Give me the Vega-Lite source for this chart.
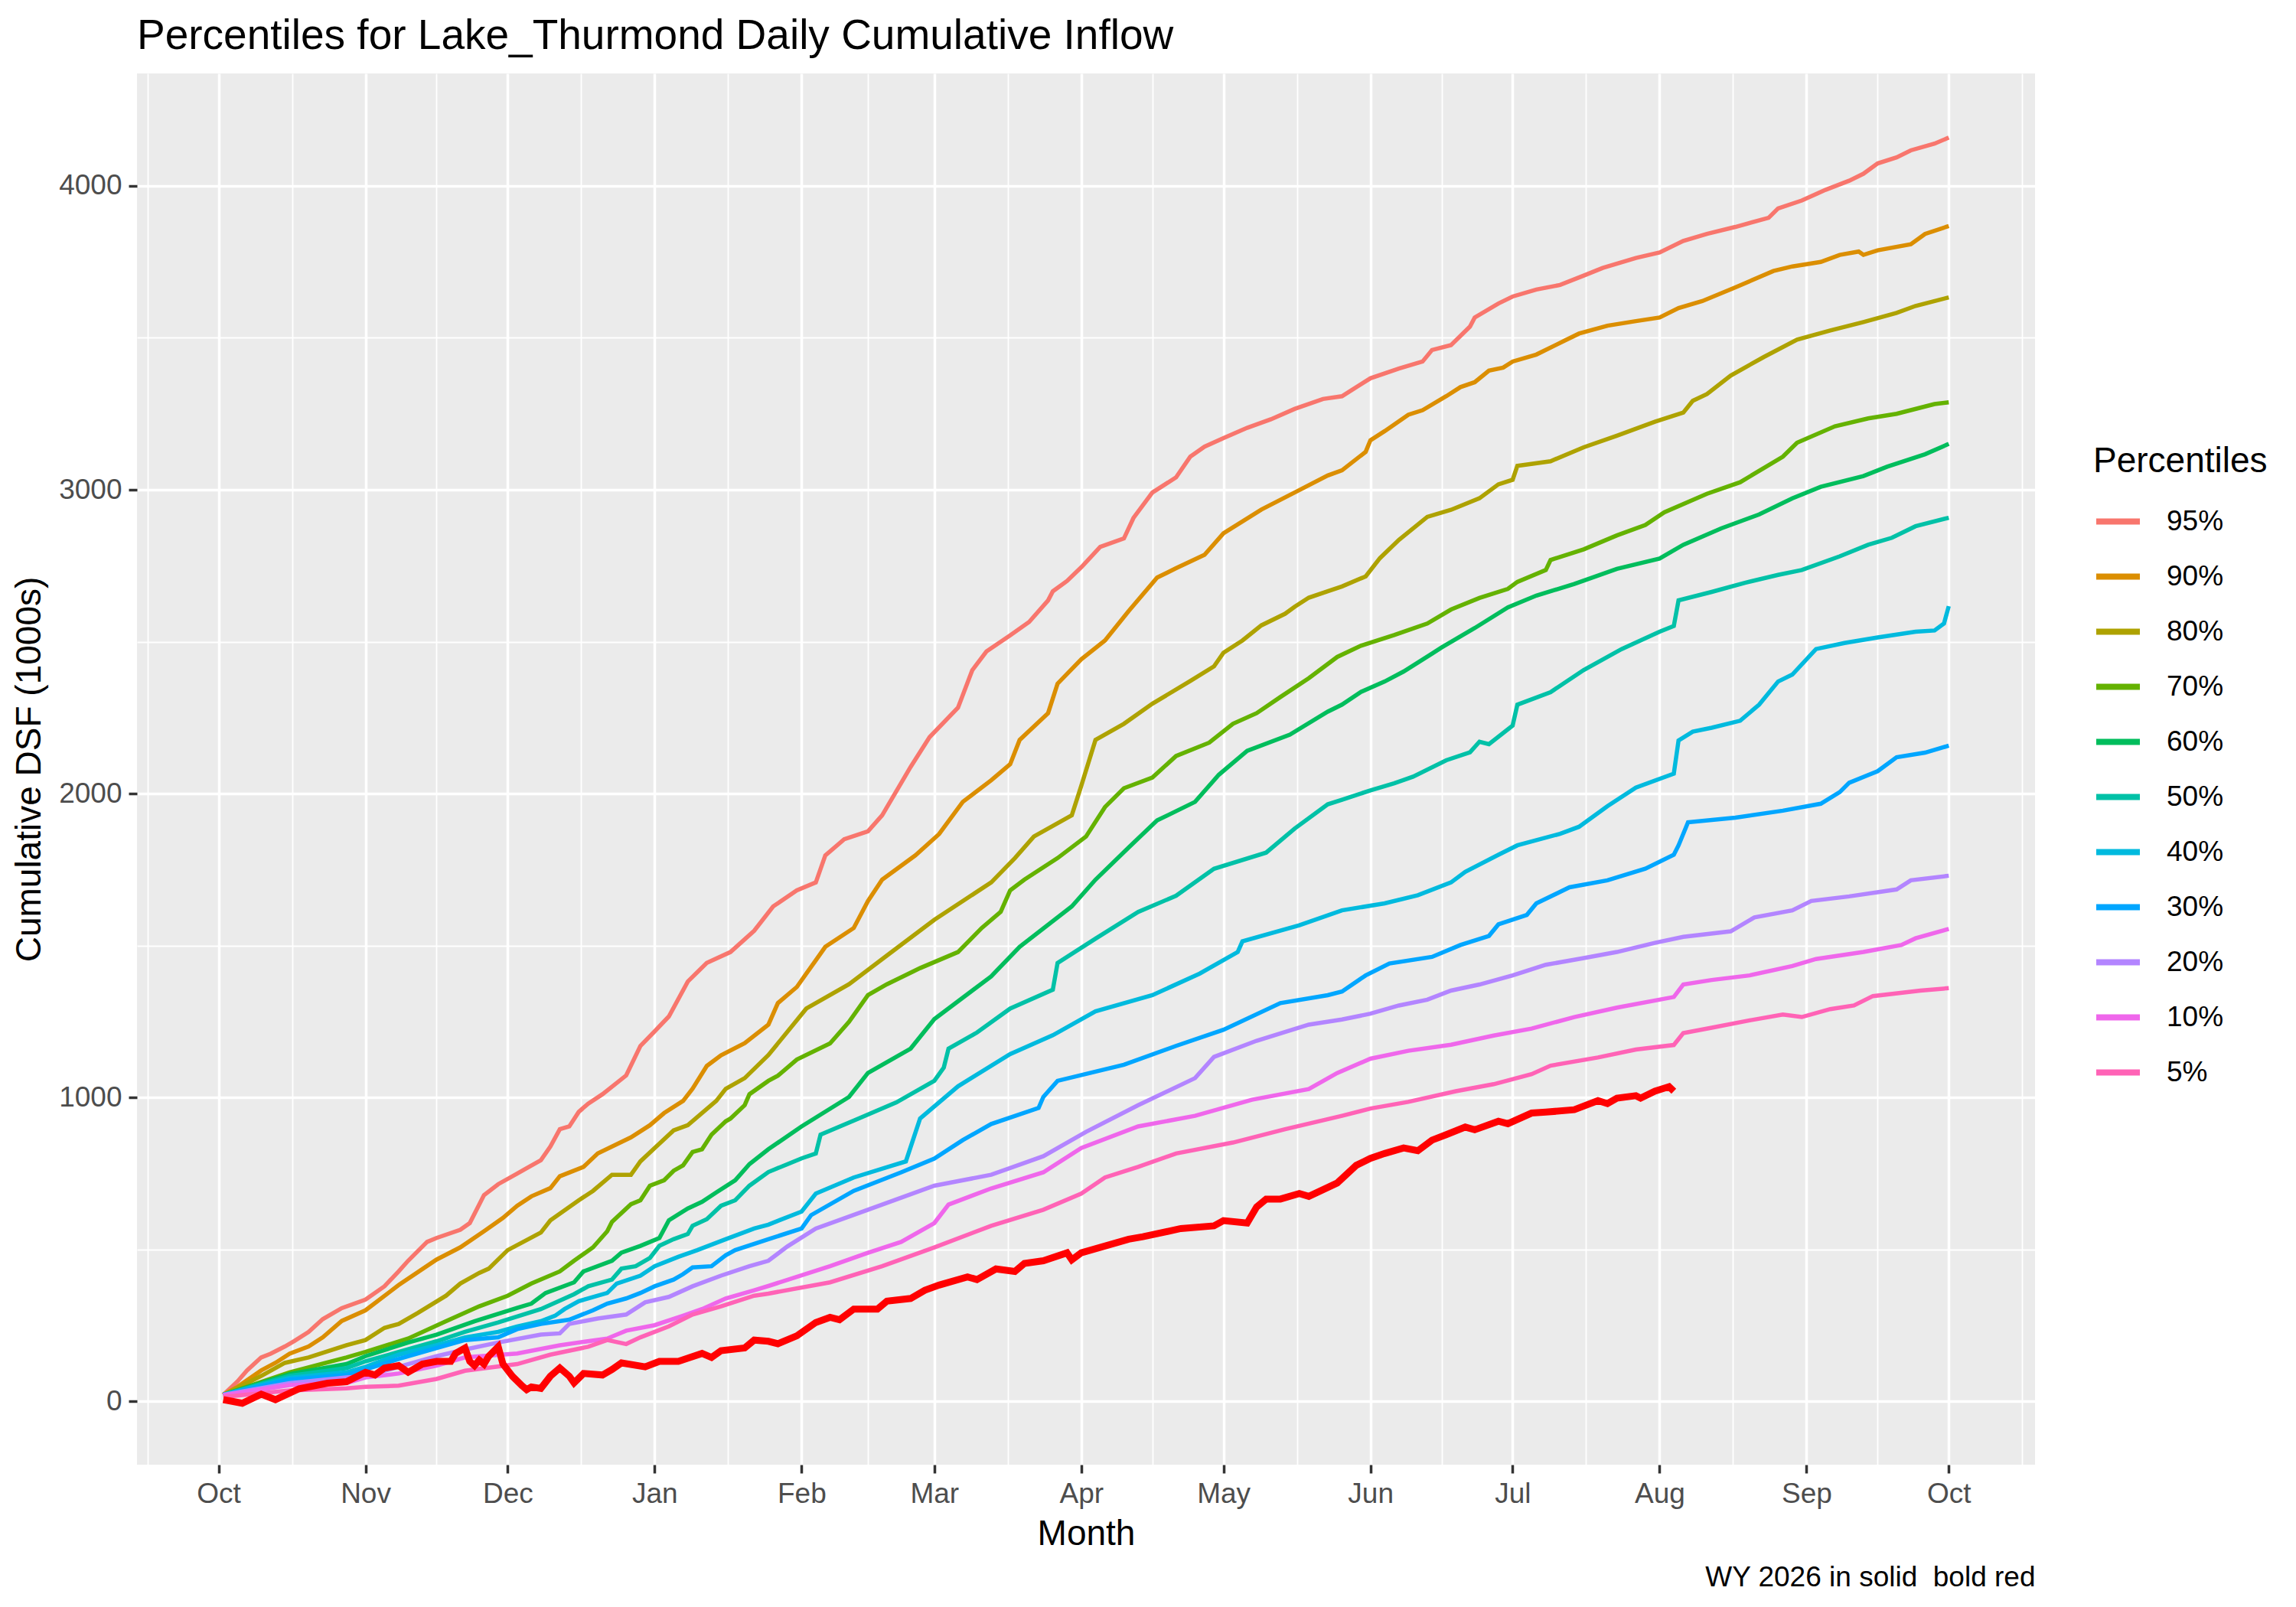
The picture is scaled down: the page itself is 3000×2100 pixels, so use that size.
{
  "$schema": "https://vega.github.io/schema/vega-lite/v6.json",
  "width": 2480,
  "height": 1818,
  "autosize": {"type": "none"},
  "padding": {"left": 179, "top": 96, "right": 341, "bottom": 186},
  "background": "white",
  "title": {
    "text": "Percentiles for Lake_Thurmond Daily Cumulative Inflow",
    "anchor": "start",
    "frame": "group",
    "font": "Liberation Sans",
    "fontSize": 55,
    "fontWeight": "normal",
    "color": "black",
    "offset": 20
  },
  "config": {
    "view": {"fill": "#EBEBEB", "stroke": null},
    "font": "Liberation Sans"
  },
  "datasets": {
    "pct": [
      {"p":"95%","d":"2025-10-02","v":22},{"p":"95%","d":"2025-10-05","v":66},{"p":"95%","d":"2025-10-07","v":102},{"p":"95%","d":"2025-10-10","v":145},{"p":"95%","d":"2025-10-12","v":157},{"p":"95%","d":"2025-10-15","v":181},{"p":"95%","d":"2025-10-17","v":199},{"p":"95%","d":"2025-10-20","v":229},{"p":"95%","d":"2025-10-23","v":271},{"p":"95%","d":"2025-10-27","v":307},{"p":"95%","d":"2025-11-01","v":335},{"p":"95%","d":"2025-11-05","v":379},{"p":"95%","d":"2025-11-08","v":428},{"p":"95%","d":"2025-11-10","v":463},{"p":"95%","d":"2025-11-14","v":525},{"p":"95%","d":"2025-11-16","v":538},{"p":"95%","d":"2025-11-21","v":565},{"p":"95%","d":"2025-11-23","v":587},{"p":"95%","d":"2025-11-26","v":679},{"p":"95%","d":"2025-11-29","v":715},{"p":"95%","d":"2025-12-03","v":750},{"p":"95%","d":"2025-12-08","v":794},{"p":"95%","d":"2025-12-10","v":839},{"p":"95%","d":"2025-12-12","v":896},{"p":"95%","d":"2025-12-14","v":905},{"p":"95%","d":"2025-12-16","v":953},{"p":"95%","d":"2025-12-18","v":980},{"p":"95%","d":"2025-12-21","v":1011},{"p":"95%","d":"2025-12-26","v":1073},{"p":"95%","d":"2025-12-29","v":1170},{"p":"95%","d":"2026-01-01","v":1218},{"p":"95%","d":"2026-01-04","v":1267},{"p":"95%","d":"2026-01-08","v":1382},{"p":"95%","d":"2026-01-12","v":1443},{"p":"95%","d":"2026-01-17","v":1479},{"p":"95%","d":"2026-01-22","v":1549},{"p":"95%","d":"2026-01-26","v":1629},{"p":"95%","d":"2026-01-31","v":1682},{"p":"95%","d":"2026-02-04","v":1708},{"p":"95%","d":"2026-02-06","v":1797},{"p":"95%","d":"2026-02-10","v":1850},{"p":"95%","d":"2026-02-15","v":1876},{"p":"95%","d":"2026-02-18","v":1929},{"p":"95%","d":"2026-02-24","v":2088},{"p":"95%","d":"2026-02-28","v":2186},{"p":"95%","d":"2026-03-06","v":2283},{"p":"95%","d":"2026-03-09","v":2406},{"p":"95%","d":"2026-03-12","v":2468},{"p":"95%","d":"2026-03-17","v":2521},{"p":"95%","d":"2026-03-21","v":2565},{"p":"95%","d":"2026-03-25","v":2636},{"p":"95%","d":"2026-03-26","v":2666},{"p":"95%","d":"2026-03-29","v":2700},{"p":"95%","d":"2026-04-01","v":2745},{"p":"95%","d":"2026-04-05","v":2812},{"p":"95%","d":"2026-04-10","v":2840},{"p":"95%","d":"2026-04-12","v":2907},{"p":"95%","d":"2026-04-16","v":2991},{"p":"95%","d":"2026-04-21","v":3041},{"p":"95%","d":"2026-04-24","v":3109},{"p":"95%","d":"2026-04-27","v":3142},{"p":"95%","d":"2026-05-01","v":3170},{"p":"95%","d":"2026-05-06","v":3204},{"p":"95%","d":"2026-05-11","v":3232},{"p":"95%","d":"2026-05-16","v":3266},{"p":"95%","d":"2026-05-22","v":3299},{"p":"95%","d":"2026-05-26","v":3308},{"p":"95%","d":"2026-06-01","v":3367},{"p":"95%","d":"2026-06-07","v":3399},{"p":"95%","d":"2026-06-12","v":3422},{"p":"95%","d":"2026-06-14","v":3460},{"p":"95%","d":"2026-06-18","v":3476},{"p":"95%","d":"2026-06-22","v":3537},{"p":"95%","d":"2026-06-23","v":3567},{"p":"95%","d":"2026-06-28","v":3613},{"p":"95%","d":"2026-07-01","v":3636},{"p":"95%","d":"2026-07-06","v":3659},{"p":"95%","d":"2026-07-11","v":3674},{"p":"95%","d":"2026-07-16","v":3705},{"p":"95%","d":"2026-07-20","v":3730},{"p":"95%","d":"2026-07-27","v":3763},{"p":"95%","d":"2026-08-01","v":3781},{"p":"95%","d":"2026-08-06","v":3819},{"p":"95%","d":"2026-08-11","v":3842},{"p":"95%","d":"2026-08-17","v":3865},{"p":"95%","d":"2026-08-24","v":3895},{"p":"95%","d":"2026-08-26","v":3926},{"p":"95%","d":"2026-08-31","v":3952},{"p":"95%","d":"2026-09-05","v":3987},{"p":"95%","d":"2026-09-10","v":4017},{"p":"95%","d":"2026-09-13","v":4040},{"p":"95%","d":"2026-09-16","v":4074},{"p":"95%","d":"2026-09-20","v":4094},{"p":"95%","d":"2026-09-23","v":4117},{"p":"95%","d":"2026-09-28","v":4139},{"p":"95%","d":"2026-10-01","v":4159},

      {"p":"90%","d":"2025-10-02","v":22},{"p":"90%","d":"2025-10-05","v":48},{"p":"90%","d":"2025-10-10","v":102},{"p":"90%","d":"2025-10-13","v":127},{"p":"90%","d":"2025-10-16","v":157},{"p":"90%","d":"2025-10-20","v":181},{"p":"90%","d":"2025-10-23","v":211},{"p":"90%","d":"2025-10-27","v":265},{"p":"90%","d":"2025-11-01","v":300},{"p":"90%","d":"2025-11-08","v":383},{"p":"90%","d":"2025-11-16","v":467},{"p":"90%","d":"2025-11-21","v":507},{"p":"90%","d":"2025-11-26","v":560},{"p":"90%","d":"2025-11-30","v":604},{"p":"90%","d":"2025-12-03","v":644},{"p":"90%","d":"2025-12-06","v":675},{"p":"90%","d":"2025-12-10","v":702},{"p":"90%","d":"2025-12-12","v":741},{"p":"90%","d":"2025-12-17","v":772},{"p":"90%","d":"2025-12-20","v":816},{"p":"90%","d":"2025-12-27","v":869},{"p":"90%","d":"2025-12-31","v":909},{"p":"90%","d":"2026-01-03","v":949},{"p":"90%","d":"2026-01-07","v":989},{"p":"90%","d":"2026-01-09","v":1029},{"p":"90%","d":"2026-01-12","v":1104},{"p":"90%","d":"2026-01-15","v":1139},{"p":"90%","d":"2026-01-20","v":1179},{"p":"90%","d":"2026-01-25","v":1240},{"p":"90%","d":"2026-01-27","v":1311},{"p":"90%","d":"2026-01-31","v":1364},{"p":"90%","d":"2026-02-04","v":1452},{"p":"90%","d":"2026-02-06","v":1496},{"p":"90%","d":"2026-02-12","v":1558},{"p":"90%","d":"2026-02-15","v":1647},{"p":"90%","d":"2026-02-18","v":1717},{"p":"90%","d":"2026-02-25","v":1797},{"p":"90%","d":"2026-03-02","v":1867},{"p":"90%","d":"2026-03-07","v":1973},{"p":"90%","d":"2026-03-13","v":2044},{"p":"90%","d":"2026-03-17","v":2097},{"p":"90%","d":"2026-03-19","v":2177},{"p":"90%","d":"2026-03-25","v":2265},{"p":"90%","d":"2026-03-27","v":2362},{"p":"90%","d":"2026-04-01","v":2442},{"p":"90%","d":"2026-04-06","v":2504},{"p":"90%","d":"2026-04-11","v":2601},{"p":"90%","d":"2026-04-17","v":2711},{"p":"90%","d":"2026-04-21","v":2742},{"p":"90%","d":"2026-04-27","v":2786},{"p":"90%","d":"2026-05-01","v":2857},{"p":"90%","d":"2026-05-09","v":2935},{"p":"90%","d":"2026-05-16","v":2991},{"p":"90%","d":"2026-05-23","v":3047},{"p":"90%","d":"2026-05-26","v":3064},{"p":"90%","d":"2026-05-31","v":3125},{"p":"90%","d":"2026-06-01","v":3163},{"p":"90%","d":"2026-06-04","v":3193},{"p":"90%","d":"2026-06-09","v":3247},{"p":"90%","d":"2026-06-12","v":3262},{"p":"90%","d":"2026-06-17","v":3308},{"p":"90%","d":"2026-06-20","v":3338},{"p":"90%","d":"2026-06-23","v":3354},{"p":"90%","d":"2026-06-26","v":3392},{"p":"90%","d":"2026-06-29","v":3402},{"p":"90%","d":"2026-07-01","v":3422},{"p":"90%","d":"2026-07-06","v":3445},{"p":"90%","d":"2026-07-12","v":3491},{"p":"90%","d":"2026-07-15","v":3514},{"p":"90%","d":"2026-07-21","v":3540},{"p":"90%","d":"2026-07-27","v":3555},{"p":"90%","d":"2026-08-01","v":3567},{"p":"90%","d":"2026-08-05","v":3598},{"p":"90%","d":"2026-08-10","v":3621},{"p":"90%","d":"2026-08-17","v":3666},{"p":"90%","d":"2026-08-25","v":3720},{"p":"90%","d":"2026-08-29","v":3735},{"p":"90%","d":"2026-09-04","v":3750},{"p":"90%","d":"2026-09-08","v":3773},{"p":"90%","d":"2026-09-12","v":3784},{"p":"90%","d":"2026-09-13","v":3773},{"p":"90%","d":"2026-09-16","v":3788},{"p":"90%","d":"2026-09-23","v":3808},{"p":"90%","d":"2026-09-26","v":3842},{"p":"90%","d":"2026-10-01","v":3868},

      {"p":"80%","d":"2025-10-02","v":22},{"p":"80%","d":"2025-10-10","v":84},{"p":"80%","d":"2025-10-15","v":127},{"p":"80%","d":"2025-10-20","v":145},{"p":"80%","d":"2025-10-26","v":175},{"p":"80%","d":"2025-10-28","v":185},{"p":"80%","d":"2025-11-01","v":202},{"p":"80%","d":"2025-11-05","v":242},{"p":"80%","d":"2025-11-08","v":255},{"p":"80%","d":"2025-11-12","v":291},{"p":"80%","d":"2025-11-18","v":348},{"p":"80%","d":"2025-11-21","v":388},{"p":"80%","d":"2025-11-25","v":423},{"p":"80%","d":"2025-11-27","v":437},{"p":"80%","d":"2025-12-01","v":498},{"p":"80%","d":"2025-12-08","v":556},{"p":"80%","d":"2025-12-10","v":596},{"p":"80%","d":"2025-12-16","v":662},{"p":"80%","d":"2025-12-19","v":693},{"p":"80%","d":"2025-12-23","v":746},{"p":"80%","d":"2025-12-27","v":746},{"p":"80%","d":"2025-12-29","v":790},{"p":"80%","d":"2026-01-01","v":834},{"p":"80%","d":"2026-01-05","v":892},{"p":"80%","d":"2026-01-08","v":909},{"p":"80%","d":"2026-01-14","v":989},{"p":"80%","d":"2026-01-16","v":1029},{"p":"80%","d":"2026-01-20","v":1064},{"p":"80%","d":"2026-01-25","v":1140},{"p":"80%","d":"2026-02-02","v":1293},{"p":"80%","d":"2026-02-11","v":1373},{"p":"80%","d":"2026-02-20","v":1479},{"p":"80%","d":"2026-03-01","v":1585},{"p":"80%","d":"2026-03-13","v":1708},{"p":"80%","d":"2026-03-18","v":1788},{"p":"80%","d":"2026-03-22","v":1859},{"p":"80%","d":"2026-03-30","v":1929},{"p":"80%","d":"2026-04-01","v":2026},{"p":"80%","d":"2026-04-04","v":2177},{"p":"80%","d":"2026-04-10","v":2230},{"p":"80%","d":"2026-04-16","v":2296},{"p":"80%","d":"2026-04-24","v":2371},{"p":"80%","d":"2026-04-29","v":2419},{"p":"80%","d":"2026-05-01","v":2464},{"p":"80%","d":"2026-05-05","v":2504},{"p":"80%","d":"2026-05-09","v":2554},{"p":"80%","d":"2026-05-14","v":2592},{"p":"80%","d":"2026-05-16","v":2615},{"p":"80%","d":"2026-05-19","v":2645},{"p":"80%","d":"2026-05-23","v":2666},{"p":"80%","d":"2026-05-26","v":2682},{"p":"80%","d":"2026-05-31","v":2715},{"p":"80%","d":"2026-06-03","v":2775},{"p":"80%","d":"2026-06-07","v":2835},{"p":"80%","d":"2026-06-13","v":2911},{"p":"80%","d":"2026-06-18","v":2934},{"p":"80%","d":"2026-06-24","v":2972},{"p":"80%","d":"2026-06-28","v":3018},{"p":"80%","d":"2026-07-01","v":3033},{"p":"80%","d":"2026-07-02","v":3079},{"p":"80%","d":"2026-07-09","v":3094},{"p":"80%","d":"2026-07-16","v":3140},{"p":"80%","d":"2026-07-23","v":3178},{"p":"80%","d":"2026-07-31","v":3224},{"p":"80%","d":"2026-08-06","v":3254},{"p":"80%","d":"2026-08-08","v":3293},{"p":"80%","d":"2026-08-11","v":3315},{"p":"80%","d":"2026-08-16","v":3376},{"p":"80%","d":"2026-08-23","v":3437},{"p":"80%","d":"2026-08-30","v":3494},{"p":"80%","d":"2026-09-06","v":3524},{"p":"80%","d":"2026-09-13","v":3552},{"p":"80%","d":"2026-09-20","v":3582},{"p":"80%","d":"2026-09-24","v":3605},{"p":"80%","d":"2026-10-01","v":3633},

      {"p":"70%","d":"2025-10-02","v":22},{"p":"70%","d":"2025-10-16","v":96},{"p":"70%","d":"2025-10-28","v":145},{"p":"70%","d":"2025-11-01","v":163},{"p":"70%","d":"2025-11-10","v":207},{"p":"70%","d":"2025-11-18","v":264},{"p":"70%","d":"2025-11-25","v":313},{"p":"70%","d":"2025-12-01","v":348},{"p":"70%","d":"2025-12-06","v":388},{"p":"70%","d":"2025-12-12","v":428},{"p":"70%","d":"2025-12-15","v":463},{"p":"70%","d":"2025-12-19","v":507},{"p":"70%","d":"2025-12-22","v":560},{"p":"70%","d":"2025-12-23","v":591},{"p":"70%","d":"2025-12-27","v":649},{"p":"70%","d":"2025-12-29","v":662},{"p":"70%","d":"2025-12-31","v":710},{"p":"70%","d":"2026-01-03","v":728},{"p":"70%","d":"2026-01-05","v":759},{"p":"70%","d":"2026-01-07","v":777},{"p":"70%","d":"2026-01-09","v":821},{"p":"70%","d":"2026-01-11","v":830},{"p":"70%","d":"2026-01-13","v":878},{"p":"70%","d":"2026-01-16","v":922},{"p":"70%","d":"2026-01-17","v":931},{"p":"70%","d":"2026-01-20","v":975},{"p":"70%","d":"2026-01-21","v":1011},{"p":"70%","d":"2026-01-25","v":1055},{"p":"70%","d":"2026-01-27","v":1072},{"p":"70%","d":"2026-01-31","v":1125},{"p":"70%","d":"2026-02-07","v":1178},{"p":"70%","d":"2026-02-11","v":1249},{"p":"70%","d":"2026-02-15","v":1337},{"p":"70%","d":"2026-02-19","v":1373},{"p":"70%","d":"2026-02-26","v":1426},{"p":"70%","d":"2026-03-06","v":1479},{"p":"70%","d":"2026-03-11","v":1558},{"p":"70%","d":"2026-03-15","v":1611},{"p":"70%","d":"2026-03-17","v":1682},{"p":"70%","d":"2026-03-20","v":1717},{"p":"70%","d":"2026-03-27","v":1788},{"p":"70%","d":"2026-04-02","v":1859},{"p":"70%","d":"2026-04-06","v":1956},{"p":"70%","d":"2026-04-10","v":2018},{"p":"70%","d":"2026-04-16","v":2053},{"p":"70%","d":"2026-04-21","v":2124},{"p":"70%","d":"2026-04-28","v":2168},{"p":"70%","d":"2026-05-03","v":2230},{"p":"70%","d":"2026-05-08","v":2265},{"p":"70%","d":"2026-05-13","v":2318},{"p":"70%","d":"2026-05-19","v":2380},{"p":"70%","d":"2026-05-25","v":2450},{"p":"70%","d":"2026-05-30","v":2487},{"p":"70%","d":"2026-06-06","v":2522},{"p":"70%","d":"2026-06-13","v":2560},{"p":"70%","d":"2026-06-18","v":2606},{"p":"70%","d":"2026-06-24","v":2644},{"p":"70%","d":"2026-06-30","v":2674},{"p":"70%","d":"2026-07-02","v":2697},{"p":"70%","d":"2026-07-08","v":2736},{"p":"70%","d":"2026-07-09","v":2769},{"p":"70%","d":"2026-07-16","v":2804},{"p":"70%","d":"2026-07-23","v":2850},{"p":"70%","d":"2026-07-29","v":2884},{"p":"70%","d":"2026-08-02","v":2926},{"p":"70%","d":"2026-08-11","v":2987},{"p":"70%","d":"2026-08-18","v":3025},{"p":"70%","d":"2026-08-27","v":3109},{"p":"70%","d":"2026-08-30","v":3155},{"p":"70%","d":"2026-09-07","v":3209},{"p":"70%","d":"2026-09-14","v":3235},{"p":"70%","d":"2026-09-20","v":3250},{"p":"70%","d":"2026-09-28","v":3282},{"p":"70%","d":"2026-10-01","v":3288},

      {"p":"60%","d":"2025-10-02","v":22},{"p":"60%","d":"2025-10-16","v":90},{"p":"60%","d":"2025-10-28","v":123},{"p":"60%","d":"2025-11-01","v":149},{"p":"60%","d":"2025-11-10","v":194},{"p":"60%","d":"2025-11-16","v":220},{"p":"60%","d":"2025-11-24","v":264},{"p":"60%","d":"2025-12-03","v":308},{"p":"60%","d":"2025-12-06","v":322},{"p":"60%","d":"2025-12-09","v":357},{"p":"60%","d":"2025-12-15","v":392},{"p":"60%","d":"2025-12-17","v":428},{"p":"60%","d":"2025-12-23","v":463},{"p":"60%","d":"2025-12-25","v":490},{"p":"60%","d":"2025-12-29","v":512},{"p":"60%","d":"2026-01-02","v":538},{"p":"60%","d":"2026-01-04","v":596},{"p":"60%","d":"2026-01-08","v":635},{"p":"60%","d":"2026-01-11","v":657},{"p":"60%","d":"2026-01-14","v":688},{"p":"60%","d":"2026-01-18","v":728},{"p":"60%","d":"2026-01-21","v":781},{"p":"60%","d":"2026-01-25","v":830},{"p":"60%","d":"2026-02-01","v":905},{"p":"60%","d":"2026-02-11","v":1002},{"p":"60%","d":"2026-02-15","v":1081},{"p":"60%","d":"2026-02-24","v":1161},{"p":"60%","d":"2026-03-01","v":1258},{"p":"60%","d":"2026-03-13","v":1399},{"p":"60%","d":"2026-03-19","v":1496},{"p":"60%","d":"2026-03-30","v":1629},{"p":"60%","d":"2026-04-04","v":1717},{"p":"60%","d":"2026-04-11","v":1823},{"p":"60%","d":"2026-04-17","v":1912},{"p":"60%","d":"2026-04-25","v":1973},{"p":"60%","d":"2026-04-30","v":2062},{"p":"60%","d":"2026-05-06","v":2141},{"p":"60%","d":"2026-05-15","v":2194},{"p":"60%","d":"2026-05-23","v":2270},{"p":"60%","d":"2026-05-26","v":2293},{"p":"60%","d":"2026-05-30","v":2335},{"p":"60%","d":"2026-06-04","v":2369},{"p":"60%","d":"2026-06-08","v":2402},{"p":"60%","d":"2026-06-14","v":2461},{"p":"60%","d":"2026-06-16","v":2481},{"p":"60%","d":"2026-06-23","v":2545},{"p":"60%","d":"2026-06-30","v":2613},{"p":"60%","d":"2026-07-06","v":2652},{"p":"60%","d":"2026-07-14","v":2690},{"p":"60%","d":"2026-07-23","v":2740},{"p":"60%","d":"2026-08-01","v":2774},{"p":"60%","d":"2026-08-06","v":2819},{"p":"60%","d":"2026-08-14","v":2873},{"p":"60%","d":"2026-08-22","v":2919},{"p":"60%","d":"2026-08-29","v":2972},{"p":"60%","d":"2026-09-04","v":3010},{"p":"60%","d":"2026-09-13","v":3045},{"p":"60%","d":"2026-09-18","v":3076},{"p":"60%","d":"2026-09-26","v":3117},{"p":"60%","d":"2026-10-01","v":3151},

      {"p":"50%","d":"2025-10-02","v":22},{"p":"50%","d":"2025-10-16","v":84},{"p":"50%","d":"2025-10-28","v":110},{"p":"50%","d":"2025-11-01","v":132},{"p":"50%","d":"2025-11-08","v":163},{"p":"50%","d":"2025-11-16","v":198},{"p":"50%","d":"2025-11-22","v":229},{"p":"50%","d":"2025-11-29","v":260},{"p":"50%","d":"2025-12-08","v":304},{"p":"50%","d":"2025-12-15","v":353},{"p":"50%","d":"2025-12-18","v":379},{"p":"50%","d":"2025-12-23","v":401},{"p":"50%","d":"2025-12-25","v":437},{"p":"50%","d":"2025-12-28","v":445},{"p":"50%","d":"2025-12-31","v":472},{"p":"50%","d":"2026-01-02","v":512},{"p":"50%","d":"2026-01-05","v":534},{"p":"50%","d":"2026-01-08","v":551},{"p":"50%","d":"2026-01-09","v":578},{"p":"50%","d":"2026-01-12","v":600},{"p":"50%","d":"2026-01-15","v":644},{"p":"50%","d":"2026-01-18","v":662},{"p":"50%","d":"2026-01-21","v":710},{"p":"50%","d":"2026-01-25","v":755},{"p":"50%","d":"2026-02-01","v":800},{"p":"50%","d":"2026-02-04","v":816},{"p":"50%","d":"2026-02-05","v":878},{"p":"50%","d":"2026-02-13","v":931},{"p":"50%","d":"2026-02-21","v":984},{"p":"50%","d":"2026-03-01","v":1055},{"p":"50%","d":"2026-03-03","v":1099},{"p":"50%","d":"2026-03-04","v":1161},{"p":"50%","d":"2026-03-10","v":1214},{"p":"50%","d":"2026-03-17","v":1293},{"p":"50%","d":"2026-03-26","v":1355},{"p":"50%","d":"2026-03-27","v":1443},{"p":"50%","d":"2026-04-04","v":1523},{"p":"50%","d":"2026-04-13","v":1611},{"p":"50%","d":"2026-04-21","v":1664},{"p":"50%","d":"2026-04-29","v":1753},{"p":"50%","d":"2026-05-10","v":1806},{"p":"50%","d":"2026-05-16","v":1885},{"p":"50%","d":"2026-05-23","v":1965},{"p":"50%","d":"2026-05-26","v":1980},{"p":"50%","d":"2026-06-01","v":2011},{"p":"50%","d":"2026-06-06","v":2034},{"p":"50%","d":"2026-06-10","v":2056},{"p":"50%","d":"2026-06-17","v":2110},{"p":"50%","d":"2026-06-22","v":2136},{"p":"50%","d":"2026-06-24","v":2171},{"p":"50%","d":"2026-06-26","v":2163},{"p":"50%","d":"2026-07-01","v":2224},{"p":"50%","d":"2026-07-02","v":2293},{"p":"50%","d":"2026-07-09","v":2334},{"p":"50%","d":"2026-07-16","v":2407},{"p":"50%","d":"2026-07-24","v":2476},{"p":"50%","d":"2026-08-01","v":2533},{"p":"50%","d":"2026-08-04","v":2552},{"p":"50%","d":"2026-08-05","v":2636},{"p":"50%","d":"2026-08-12","v":2664},{"p":"50%","d":"2026-08-19","v":2694},{"p":"50%","d":"2026-08-26","v":2720},{"p":"50%","d":"2026-08-31","v":2736},{"p":"50%","d":"2026-09-08","v":2781},{"p":"50%","d":"2026-09-14","v":2819},{"p":"50%","d":"2026-09-19","v":2842},{"p":"50%","d":"2026-09-24","v":2880},{"p":"50%","d":"2026-10-01","v":2908},

      {"p":"40%","d":"2025-10-02","v":22},{"p":"40%","d":"2025-10-16","v":78},{"p":"40%","d":"2025-10-28","v":96},{"p":"40%","d":"2025-11-01","v":114},{"p":"40%","d":"2025-11-08","v":154},{"p":"40%","d":"2025-11-16","v":185},{"p":"40%","d":"2025-11-22","v":211},{"p":"40%","d":"2025-11-29","v":229},{"p":"40%","d":"2025-12-03","v":247},{"p":"40%","d":"2025-12-08","v":264},{"p":"40%","d":"2025-12-11","v":282},{"p":"40%","d":"2025-12-13","v":304},{"p":"40%","d":"2025-12-16","v":330},{"p":"40%","d":"2025-12-22","v":357},{"p":"40%","d":"2025-12-24","v":388},{"p":"40%","d":"2025-12-29","v":414},{"p":"40%","d":"2026-01-01","v":445},{"p":"40%","d":"2026-01-06","v":476},{"p":"40%","d":"2026-01-10","v":498},{"p":"40%","d":"2026-01-16","v":534},{"p":"40%","d":"2026-01-22","v":569},{"p":"40%","d":"2026-01-25","v":582},{"p":"40%","d":"2026-02-01","v":625},{"p":"40%","d":"2026-02-04","v":684},{"p":"40%","d":"2026-02-12","v":737},{"p":"40%","d":"2026-02-23","v":790},{"p":"40%","d":"2026-02-26","v":931},{"p":"40%","d":"2026-03-06","v":1037},{"p":"40%","d":"2026-03-17","v":1143},{"p":"40%","d":"2026-03-26","v":1205},{"p":"40%","d":"2026-04-04","v":1284},{"p":"40%","d":"2026-04-16","v":1337},{"p":"40%","d":"2026-04-26","v":1408},{"p":"40%","d":"2026-05-04","v":1479},{"p":"40%","d":"2026-05-05","v":1514},{"p":"40%","d":"2026-05-17","v":1567},{"p":"40%","d":"2026-05-26","v":1616},{"p":"40%","d":"2026-06-04","v":1639},{"p":"40%","d":"2026-06-11","v":1666},{"p":"40%","d":"2026-06-18","v":1708},{"p":"40%","d":"2026-06-21","v":1743},{"p":"40%","d":"2026-06-28","v":1799},{"p":"40%","d":"2026-07-02","v":1830},{"p":"40%","d":"2026-07-11","v":1868},{"p":"40%","d":"2026-07-15","v":1891},{"p":"40%","d":"2026-07-21","v":1959},{"p":"40%","d":"2026-07-27","v":2020},{"p":"40%","d":"2026-08-04","v":2066},{"p":"40%","d":"2026-08-05","v":2175},{"p":"40%","d":"2026-08-08","v":2204},{"p":"40%","d":"2026-08-12","v":2217},{"p":"40%","d":"2026-08-18","v":2240},{"p":"40%","d":"2026-08-22","v":2293},{"p":"40%","d":"2026-08-26","v":2369},{"p":"40%","d":"2026-08-29","v":2392},{"p":"40%","d":"2026-09-03","v":2476},{"p":"40%","d":"2026-09-09","v":2496},{"p":"40%","d":"2026-09-16","v":2514},{"p":"40%","d":"2026-09-24","v":2533},{"p":"40%","d":"2026-09-28","v":2537},{"p":"40%","d":"2026-09-30","v":2560},{"p":"40%","d":"2026-10-01","v":2617},

      {"p":"30%","d":"2025-10-02","v":22},{"p":"30%","d":"2025-10-16","v":72},{"p":"30%","d":"2025-10-28","v":87},{"p":"30%","d":"2025-11-01","v":105},{"p":"30%","d":"2025-11-08","v":140},{"p":"30%","d":"2025-11-16","v":176},{"p":"30%","d":"2025-11-22","v":202},{"p":"30%","d":"2025-11-29","v":211},{"p":"30%","d":"2025-12-03","v":238},{"p":"30%","d":"2025-12-08","v":255},{"p":"30%","d":"2025-12-14","v":269},{"p":"30%","d":"2025-12-19","v":300},{"p":"30%","d":"2025-12-22","v":322},{"p":"30%","d":"2025-12-26","v":339},{"p":"30%","d":"2025-12-29","v":357},{"p":"30%","d":"2026-01-01","v":379},{"p":"30%","d":"2026-01-05","v":401},{"p":"30%","d":"2026-01-07","v":419},{"p":"30%","d":"2026-01-09","v":441},{"p":"30%","d":"2026-01-13","v":445},{"p":"30%","d":"2026-01-16","v":481},{"p":"30%","d":"2026-01-18","v":498},{"p":"30%","d":"2026-01-25","v":534},{"p":"30%","d":"2026-02-01","v":569},{"p":"30%","d":"2026-02-03","v":613},{"p":"30%","d":"2026-02-12","v":693},{"p":"30%","d":"2026-02-22","v":754},{"p":"30%","d":"2026-03-01","v":799},{"p":"30%","d":"2026-03-07","v":860},{"p":"30%","d":"2026-03-13","v":913},{"p":"30%","d":"2026-03-23","v":966},{"p":"30%","d":"2026-03-24","v":1002},{"p":"30%","d":"2026-03-27","v":1055},{"p":"30%","d":"2026-04-10","v":1108},{"p":"30%","d":"2026-04-21","v":1170},{"p":"30%","d":"2026-05-01","v":1223},{"p":"30%","d":"2026-05-13","v":1311},{"p":"30%","d":"2026-05-23","v":1337},{"p":"30%","d":"2026-05-26","v":1349},{"p":"30%","d":"2026-05-31","v":1402},{"p":"30%","d":"2026-06-05","v":1441},{"p":"30%","d":"2026-06-14","v":1463},{"p":"30%","d":"2026-06-20","v":1502},{"p":"30%","d":"2026-06-26","v":1532},{"p":"30%","d":"2026-06-28","v":1570},{"p":"30%","d":"2026-07-04","v":1601},{"p":"30%","d":"2026-07-06","v":1639},{"p":"30%","d":"2026-07-13","v":1692},{"p":"30%","d":"2026-07-21","v":1715},{"p":"30%","d":"2026-07-29","v":1753},{"p":"30%","d":"2026-08-04","v":1799},{"p":"30%","d":"2026-08-05","v":1830},{"p":"30%","d":"2026-08-07","v":1906},{"p":"30%","d":"2026-08-17","v":1921},{"p":"30%","d":"2026-08-27","v":1944},{"p":"30%","d":"2026-09-04","v":1967},{"p":"30%","d":"2026-09-08","v":2005},{"p":"30%","d":"2026-09-10","v":2036},{"p":"30%","d":"2026-09-16","v":2074},{"p":"30%","d":"2026-09-20","v":2120},{"p":"30%","d":"2026-09-26","v":2135},{"p":"30%","d":"2026-10-01","v":2158},

      {"p":"20%","d":"2025-10-02","v":22},{"p":"20%","d":"2025-10-16","v":60},{"p":"20%","d":"2025-10-28","v":79},{"p":"20%","d":"2025-11-01","v":83},{"p":"20%","d":"2025-11-08","v":114},{"p":"20%","d":"2025-11-16","v":149},{"p":"20%","d":"2025-11-22","v":171},{"p":"20%","d":"2025-11-29","v":194},{"p":"20%","d":"2025-12-08","v":220},{"p":"20%","d":"2025-12-12","v":224},{"p":"20%","d":"2025-12-14","v":255},{"p":"20%","d":"2025-12-20","v":273},{"p":"20%","d":"2025-12-26","v":286},{"p":"20%","d":"2025-12-30","v":326},{"p":"20%","d":"2026-01-04","v":344},{"p":"20%","d":"2026-01-09","v":379},{"p":"20%","d":"2026-01-15","v":414},{"p":"20%","d":"2026-01-21","v":445},{"p":"20%","d":"2026-01-25","v":463},{"p":"20%","d":"2026-01-29","v":510},{"p":"20%","d":"2026-02-04","v":569},{"p":"20%","d":"2026-02-15","v":631},{"p":"20%","d":"2026-03-01","v":710},{"p":"20%","d":"2026-03-13","v":746},{"p":"20%","d":"2026-03-24","v":807},{"p":"20%","d":"2026-04-02","v":887},{"p":"20%","d":"2026-04-13","v":975},{"p":"20%","d":"2026-04-25","v":1064},{"p":"20%","d":"2026-04-29","v":1134},{"p":"20%","d":"2026-05-08","v":1187},{"p":"20%","d":"2026-05-19","v":1240},{"p":"20%","d":"2026-05-26","v":1257},{"p":"20%","d":"2026-06-01","v":1276},{"p":"20%","d":"2026-06-07","v":1303},{"p":"20%","d":"2026-06-13","v":1322},{"p":"20%","d":"2026-06-18","v":1352},{"p":"20%","d":"2026-06-24","v":1372},{"p":"20%","d":"2026-07-01","v":1402},{"p":"20%","d":"2026-07-08","v":1437},{"p":"20%","d":"2026-07-16","v":1459},{"p":"20%","d":"2026-07-23","v":1479},{"p":"20%","d":"2026-07-31","v":1509},{"p":"20%","d":"2026-08-06","v":1529},{"p":"20%","d":"2026-08-16","v":1547},{"p":"20%","d":"2026-08-21","v":1593},{"p":"20%","d":"2026-08-29","v":1616},{"p":"20%","d":"2026-09-02","v":1647},{"p":"20%","d":"2026-09-10","v":1662},{"p":"20%","d":"2026-09-20","v":1685},{"p":"20%","d":"2026-09-23","v":1715},{"p":"20%","d":"2026-10-01","v":1730},

      {"p":"10%","d":"2025-10-02","v":20},{"p":"10%","d":"2025-10-16","v":54},{"p":"10%","d":"2025-10-28","v":61},{"p":"10%","d":"2025-11-01","v":79},{"p":"10%","d":"2025-11-08","v":92},{"p":"10%","d":"2025-11-16","v":118},{"p":"10%","d":"2025-11-22","v":145},{"p":"10%","d":"2025-12-03","v":158},{"p":"10%","d":"2025-12-12","v":185},{"p":"10%","d":"2025-12-22","v":207},{"p":"10%","d":"2025-12-26","v":233},{"p":"10%","d":"2026-01-01","v":251},{"p":"10%","d":"2026-01-07","v":282},{"p":"10%","d":"2026-01-11","v":304},{"p":"10%","d":"2026-01-16","v":339},{"p":"10%","d":"2026-01-22","v":366},{"p":"10%","d":"2026-01-25","v":380},{"p":"10%","d":"2026-02-07","v":445},{"p":"10%","d":"2026-02-15","v":489},{"p":"10%","d":"2026-02-22","v":525},{"p":"10%","d":"2026-03-01","v":587},{"p":"10%","d":"2026-03-04","v":648},{"p":"10%","d":"2026-03-13","v":701},{"p":"10%","d":"2026-03-24","v":754},{"p":"10%","d":"2026-04-01","v":834},{"p":"10%","d":"2026-04-13","v":905},{"p":"10%","d":"2026-04-25","v":940},{"p":"10%","d":"2026-05-07","v":993},{"p":"10%","d":"2026-05-19","v":1028},{"p":"10%","d":"2026-05-25","v":1081},{"p":"10%","d":"2026-06-01","v":1128},{"p":"10%","d":"2026-06-09","v":1154},{"p":"10%","d":"2026-06-18","v":1174},{"p":"10%","d":"2026-06-27","v":1204},{"p":"10%","d":"2026-07-05","v":1227},{"p":"10%","d":"2026-07-14","v":1265},{"p":"10%","d":"2026-07-23","v":1296},{"p":"10%","d":"2026-08-04","v":1331},{"p":"10%","d":"2026-08-06","v":1372},{"p":"10%","d":"2026-08-12","v":1387},{"p":"10%","d":"2026-08-20","v":1402},{"p":"10%","d":"2026-08-29","v":1433},{"p":"10%","d":"2026-09-03","v":1456},{"p":"10%","d":"2026-09-13","v":1479},{"p":"10%","d":"2026-09-21","v":1502},{"p":"10%","d":"2026-09-24","v":1524},{"p":"10%","d":"2026-10-01","v":1555},

      {"p":" 5%","d":"2025-10-02","v":15},{"p":" 5%","d":"2025-10-16","v":36},{"p":" 5%","d":"2025-10-28","v":43},{"p":" 5%","d":"2025-11-01","v":48},{"p":" 5%","d":"2025-11-08","v":52},{"p":" 5%","d":"2025-11-16","v":74},{"p":" 5%","d":"2025-11-22","v":101},{"p":" 5%","d":"2025-12-03","v":123},{"p":" 5%","d":"2025-12-10","v":154},{"p":" 5%","d":"2025-12-18","v":180},{"p":" 5%","d":"2025-12-22","v":202},{"p":" 5%","d":"2025-12-26","v":189},{"p":" 5%","d":"2025-12-29","v":211},{"p":" 5%","d":"2026-01-04","v":247},{"p":" 5%","d":"2026-01-09","v":286},{"p":" 5%","d":"2026-01-15","v":313},{"p":" 5%","d":"2026-01-22","v":348},{"p":" 5%","d":"2026-01-25","v":355},{"p":" 5%","d":"2026-02-07","v":392},{"p":" 5%","d":"2026-02-18","v":445},{"p":" 5%","d":"2026-03-01","v":507},{"p":" 5%","d":"2026-03-13","v":578},{"p":" 5%","d":"2026-03-24","v":631},{"p":" 5%","d":"2026-04-01","v":684},{"p":" 5%","d":"2026-04-06","v":737},{"p":" 5%","d":"2026-04-13","v":772},{"p":" 5%","d":"2026-04-21","v":816},{"p":" 5%","d":"2026-05-03","v":852},{"p":" 5%","d":"2026-05-14","v":896},{"p":" 5%","d":"2026-05-26","v":940},{"p":" 5%","d":"2026-06-01","v":964},{"p":" 5%","d":"2026-06-09","v":986},{"p":" 5%","d":"2026-06-19","v":1021},{"p":" 5%","d":"2026-06-27","v":1044},{"p":" 5%","d":"2026-07-05","v":1077},{"p":" 5%","d":"2026-07-09","v":1105},{"p":" 5%","d":"2026-07-19","v":1132},{"p":" 5%","d":"2026-07-27","v":1158},{"p":" 5%","d":"2026-08-04","v":1173},{"p":" 5%","d":"2026-08-06","v":1212},{"p":" 5%","d":"2026-08-12","v":1230},{"p":" 5%","d":"2026-08-20","v":1254},{"p":" 5%","d":"2026-08-27","v":1273},{"p":" 5%","d":"2026-08-31","v":1265},{"p":" 5%","d":"2026-09-06","v":1291},{"p":" 5%","d":"2026-09-11","v":1303},{"p":" 5%","d":"2026-09-15","v":1334},{"p":" 5%","d":"2026-09-25","v":1352},{"p":" 5%","d":"2026-10-01","v":1360}
    ],
    "wy": [
      {"d":"2025-10-02","v":6},{"d":"2025-10-06","v":-6},{"d":"2025-10-10","v":24},{"d":"2025-10-13","v":6},{"d":"2025-10-18","v":42},{"d":"2025-10-24","v":60},{"d":"2025-10-28","v":65},{"d":"2025-11-01","v":96},{"d":"2025-11-03","v":87},{"d":"2025-11-05","v":110},{"d":"2025-11-08","v":118},{"d":"2025-11-10","v":96},{"d":"2025-11-13","v":123},{"d":"2025-11-16","v":132},{"d":"2025-11-19","v":132},{"d":"2025-11-20","v":158},{"d":"2025-11-22","v":176},{"d":"2025-11-23","v":132},{"d":"2025-11-24","v":118},{"d":"2025-11-25","v":136},{"d":"2025-11-26","v":123},{"d":"2025-11-27","v":149},{"d":"2025-11-29","v":180},{"d":"2025-11-30","v":123},{"d":"2025-12-02","v":83},{"d":"2025-12-04","v":52},{"d":"2025-12-05","v":39},{"d":"2025-12-06","v":48},{"d":"2025-12-08","v":43},{"d":"2025-12-10","v":83},{"d":"2025-12-12","v":110},{"d":"2025-12-14","v":83},{"d":"2025-12-15","v":61},{"d":"2025-12-17","v":92},{"d":"2025-12-21","v":87},{"d":"2025-12-23","v":105},{"d":"2025-12-25","v":127},{"d":"2025-12-30","v":114},{"d":"2026-01-02","v":132},{"d":"2026-01-06","v":132},{"d":"2026-01-11","v":158},{"d":"2026-01-13","v":145},{"d":"2026-01-15","v":167},{"d":"2026-01-20","v":176},{"d":"2026-01-22","v":202},{"d":"2026-01-25","v":198},{"d":"2026-01-27","v":190},{"d":"2026-01-31","v":216},{"d":"2026-02-04","v":260},{"d":"2026-02-07","v":277},{"d":"2026-02-09","v":269},{"d":"2026-02-12","v":304},{"d":"2026-02-17","v":304},{"d":"2026-02-19","v":330},{"d":"2026-02-24","v":339},{"d":"2026-02-27","v":366},{"d":"2026-03-02","v":383},{"d":"2026-03-08","v":410},{"d":"2026-03-10","v":401},{"d":"2026-03-14","v":436},{"d":"2026-03-18","v":428},{"d":"2026-03-20","v":454},{"d":"2026-03-24","v":463},{"d":"2026-03-29","v":489},{"d":"2026-03-30","v":466},{"d":"2026-04-01","v":489},{"d":"2026-04-11","v":534},{"d":"2026-04-14","v":542},{"d":"2026-04-22","v":569},{"d":"2026-04-29","v":578},{"d":"2026-05-01","v":595},{"d":"2026-05-06","v":587},{"d":"2026-05-08","v":640},{"d":"2026-05-10","v":666},{"d":"2026-05-13","v":666},{"d":"2026-05-17","v":684},{"d":"2026-05-19","v":675},{"d":"2026-05-25","v":719},{"d":"2026-05-29","v":777},{"d":"2026-06-01","v":800},{"d":"2026-06-04","v":816},{"d":"2026-06-08","v":834},{"d":"2026-06-11","v":825},{"d":"2026-06-14","v":860},{"d":"2026-06-17","v":878},{"d":"2026-06-21","v":903},{"d":"2026-06-23","v":894},{"d":"2026-06-28","v":922},{"d":"2026-06-30","v":914},{"d":"2026-07-05","v":949},{"d":"2026-07-08","v":952},{"d":"2026-07-14","v":960},{"d":"2026-07-19","v":990},{"d":"2026-07-21","v":980},{"d":"2026-07-23","v":998},{"d":"2026-07-27","v":1006},{"d":"2026-07-28","v":998},{"d":"2026-07-31","v":1021},{"d":"2026-08-03","v":1036},{"d":"2026-08-04","v":1021}
    ]
  },
  "encoding": {
    "y": {
      "field": "v",
      "type": "quantitative",
      "scale": {"domain": [-208, 4370], "nice": false, "zero": false},
      "axis": {
        "title": "Cumulative DSF (1000s)",
        "titleFontSize": 46,
        "titleFontWeight": "normal",
        "titleColor": "black",
        "titlePadding": 14,
        "values": [0, 500, 1000, 1500, 2000, 2500, 3000, 3500, 4000],
        "format": "d",
        "labelExpr": "datum.value % 1000 == 0 ? datum.label : ''",
        "labelFontSize": 37,
        "labelColor": "#4D4D4D",
        "labelPadding": 9,
        "domain": false,
        "tickSize": 11,
        "tickWidth": 3.5,
        "tickColor": "#333333",
        "tickOpacity": {"condition": {"test": "datum.value % 1000 == 0", "value": 1}, "value": 0},
        "gridColor": "white",
        "gridOpacity": 1,
        "gridWidth": {"condition": {"test": "datum.value % 1000 == 0", "value": 3.5}, "value": 1.8}
      }
    }
  },
  "layer": [
    {
      "data": {"name": "pct"},
      "mark": {"type": "line", "strokeWidth": 5.5},
      "encoding": {
        "x": {
          "field": "d",
          "type": "temporal",
          "scale": {
            "type": "utc",
            "domain": [
              {"year": 2025, "month": 9, "date": 13, "hours": 19, "minutes": 12, "utc": true},
              {"year": 2026, "month": 10, "date": 19, "hours": 4, "minutes": 48, "utc": true}
            ]
          },
          "axis": {
            "title": "Month",
            "titleFontSize": 46,
            "titleFontWeight": "normal",
            "titleColor": "black",
            "titlePadding": 12,
            "values": [
              {"year": 2025, "month": 9, "date": 16, "utc": true},
              {"year": 2025, "month": 10, "date": 1, "utc": true},
              {"year": 2025, "month": 10, "date": 16, "hours": 12, "utc": true},
              {"year": 2025, "month": 11, "date": 1, "utc": true},
              {"year": 2025, "month": 11, "date": 16, "utc": true},
              {"year": 2025, "month": 12, "date": 1, "utc": true},
              {"year": 2025, "month": 12, "date": 16, "hours": 12, "utc": true},
              {"year": 2026, "month": 1, "date": 1, "utc": true},
              {"year": 2026, "month": 1, "date": 16, "hours": 12, "utc": true},
              {"year": 2026, "month": 2, "date": 1, "utc": true},
              {"year": 2026, "month": 2, "date": 15, "utc": true},
              {"year": 2026, "month": 3, "date": 1, "utc": true},
              {"year": 2026, "month": 3, "date": 16, "hours": 12, "utc": true},
              {"year": 2026, "month": 4, "date": 1, "utc": true},
              {"year": 2026, "month": 4, "date": 16, "utc": true},
              {"year": 2026, "month": 5, "date": 1, "utc": true},
              {"year": 2026, "month": 5, "date": 16, "hours": 12, "utc": true},
              {"year": 2026, "month": 6, "date": 1, "utc": true},
              {"year": 2026, "month": 6, "date": 16, "utc": true},
              {"year": 2026, "month": 7, "date": 1, "utc": true},
              {"year": 2026, "month": 7, "date": 16, "hours": 12, "utc": true},
              {"year": 2026, "month": 8, "date": 1, "utc": true},
              {"year": 2026, "month": 8, "date": 16, "hours": 12, "utc": true},
              {"year": 2026, "month": 9, "date": 1, "utc": true},
              {"year": 2026, "month": 9, "date": 16, "utc": true},
              {"year": 2026, "month": 10, "date": 1, "utc": true},
              {"year": 2026, "month": 10, "date": 16, "hours": 12, "utc": true}
            ],
            "labelExpr": "utcdate(datum.value) == 1 ? utcFormat(datum.value, '%b') : ''",
            "labelOverlap": false,
            "labelFlush": false,
            "labelBound": false,
            "labelFontSize": 37,
            "labelColor": "#4D4D4D",
            "labelPadding": 9,
            "domain": false,
            "tickSize": 11,
            "tickWidth": 3.5,
            "tickColor": "#333333",
            "tickOpacity": {"condition": {"test": "utcdate(datum.value) == 1", "value": 1}, "value": 0},
            "gridColor": "white",
            "gridOpacity": 1,
            "gridWidth": {"condition": {"test": "utcdate(datum.value) == 1", "value": 3.5}, "value": 1.8}
          }
        },
        "color": {
          "field": "p",
          "type": "nominal",
          "scale": {
            "domain": ["95%", "90%", "80%", "70%", "60%", "50%", "40%", "30%", "20%", "10%", " 5%"],
            "range": ["#F8766D", "#DB8E00", "#AEA200", "#64B200", "#00BD5C", "#00C1A7", "#00BADE", "#00A6FF", "#B385FF", "#EF67EB", "#FF63B6"]
          },
          "legend": {
            "title": "Percentiles",
            "orient": "none",
            "legendX": 2556,
            "legendY": 485,
            "padding": 0,
            "titleFontSize": 46,
            "titleFontWeight": "normal",
            "titleColor": "black",
            "titlePadding": 22,
            "titleLimit": 500,
            "labelFontSize": 37,
            "labelColor": "black",
            "labelOffset": 31,
            "labelExpr": "replace(datum.label, ' ', '\u00a0')",
            "symbolType": "stroke",
            "symbolSize": 3249,
            "symbolStrokeWidth": 8,
            "rowPadding": 21
          }
        }
      }
    },
    {
      "data": {"name": "wy"},
      "mark": {"type": "line", "color": "red", "strokeWidth": 9},
      "encoding": {
        "x": {
          "field": "d",
          "type": "temporal",
          "axis": {
            "orient": "bottom",
            "grid": false,
            "labels": false,
            "ticks": false,
            "domain": false,
            "title": "WY 2026 in solid\u00a0 bold red",
            "titleAnchor": "end",
            "titleFontSize": 37,
            "titleFontWeight": "normal",
            "titleColor": "black",
            "titlePadding": 129
          }
        }
      }
    }
  ],
  "resolve": {"axis": {"x": "independent"}}
}
